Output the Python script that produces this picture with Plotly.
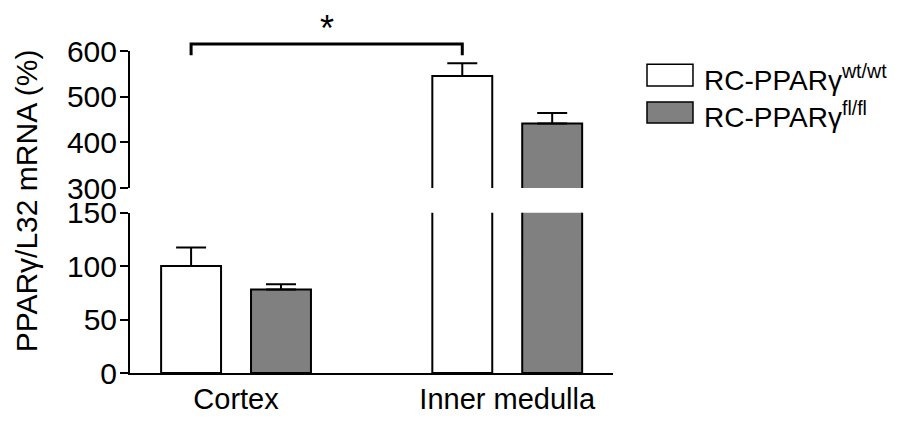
import plotly.graph_objects as go

# ---- data ----
categories = ["Cortex", "Inner medulla"]
series_names = ["RC-PPARγ<sup>wt/wt</sup>", "RC-PPARγ<sup>fl/fl</sup>"]
wt_values = [100, 545]
wt_err = [17.5, 28]
fl_values = [78, 441]
fl_err = [5, 23]
lower_ticks = [0, 50, 100, 150]
upper_ticks = [300, 400, 500, 600]
y_title = "PPARγ/L32 mRNA (%)"

# ---- styles ----
FONT = "Liberation Sans, Arial, sans-serif"
colors = ["#ffffff", "#808080"]
BARGAP = 0.337
BARGROUPGAP = 1 / 3

fig = go.Figure()
series = [(wt_values, wt_err), (fl_values, fl_err)]
for yax in ["y", "y2"]:
    for i, (vals, errs) in enumerate(series):
        fig.add_trace(go.Bar(
            x=categories, y=vals, xaxis="x", yaxis=yax,
            name=series_names[i], showlegend=False,
            marker=dict(color=colors[i], line=dict(color="black", width=2)),
            error_y=dict(type="data", array=errs, arrayminus=[0] * len(errs),
                         symmetric=False, color="black", thickness=2, width=15),
        ))

axis_common = dict(showline=True, linecolor="black", linewidth=2, ticks="outside",
                   ticklen=8, tickwidth=2, tickcolor="black", showgrid=False,
                   zeroline=False, tickfont=dict(family=FONT, size=30, color="black"),
                   anchor="x", fixedrange=True, automargin=False, ticklabelstandoff=-3)

fig.update_layout(
    width=908, height=421,
    margin=dict(l=130, r=295, t=51, b=48, pad=0, autoexpand=False),
    plot_bgcolor="white", paper_bgcolor="white",
    barmode="group", bargap=BARGAP, bargroupgap=BARGROUPGAP,
    font=dict(family=FONT, color="black"),
    xaxis=dict(range=[-0.391, 1.39], showline=True, linecolor="black", linewidth=2,
               ticks="", showgrid=False, zeroline=False, anchor="y", automargin=False,
               tickfont=dict(family=FONT, size=29, color="black"),
               ticklabelstandoff=-1),
    yaxis=dict(domain=[0, 0.498], range=[0, 150], tickvals=lower_ticks, **axis_common),
    yaxis2=dict(domain=[0.5745, 1], range=[300, 600], tickvals=upper_ticks, **axis_common),
)

# significance bracket between the two wt bars
off = (1 - BARGAP) / 4
x_left = 0 - off
x_right = 1 - off
fig.add_shape(type="path", xref="x", yref="paper",
              path=f"M {x_left} 0.9866 L {x_left} 1.0217 L {x_right} 1.0217 L {x_right} 0.9866",
              line=dict(color="black", width=3))
fig.add_annotation(x=(x_left + x_right) / 2, y=1.0705, xref="x", yref="paper",
                   text="*", showarrow=False, font=dict(family=FONT, size=36, color="black"),
                   yanchor="middle")

# y-axis title
fig.add_annotation(x=-0.214, y=0.535, xref="paper", yref="paper", text=y_title,
                   textangle=-90, showarrow=False, xanchor="center", yanchor="middle",
                   font=dict(family=FONT, size=30, color="black"))

# custom legend
legend_rows = [(0.9587, 0.8913), (0.8416, 0.7764)]
for i, (y1, y0) in enumerate(legend_rows):
    fig.add_shape(type="rect", xref="paper", yref="paper", x0=1.0704, x1=1.1656,
                  y0=y0, y1=y1, fillcolor=colors[i], line=dict(color="black", width=1.5))
    fig.add_annotation(x=1.1837, y=(y0 + y1) / 2 - 0.009, xref="paper", yref="paper",
                       text=series_names[i], showarrow=False, xanchor="left",
                       yanchor="middle", font=dict(family=FONT, size=28, color="black"))

fig.write_html("out.html")
